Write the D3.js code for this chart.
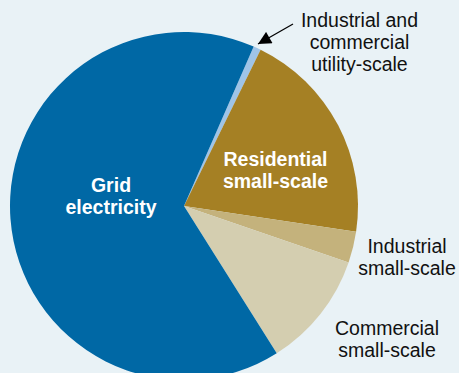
<!DOCTYPE html>
<html>
<head>
<meta charset="utf-8">
<script src="https://cdn.jsdelivr.net/npm/d3@7"></script>
<style>
  html, body { margin: 0; padding: 0; background: #e9f2f6; }
  svg { display: block; }
  text { font-family: "Liberation Sans", Arial, sans-serif; }
</style>
</head>
<body>
<div id="chart"></div>
<script>
// Electricity supply shares (percent), clockwise from the utility-scale sliver
const categories = [
  "Industrial and commercial utility-scale",
  "Residential small-scale",
  "Industrial small-scale",
  "Commercial small-scale",
  "Grid electricity"
];
const shares = [0.7, 20.1, 2.9, 10.8, 65.5];
const colors = ["#9fc4e7", "#a58024", "#c4b27c", "#d4ceb0", "#0068a5"];

const width = 459, height = 373;
const cx = 184, cy = 206, radius = 174;
const startDeg = 23.6;

const svg = d3.select("#chart").append("svg")
  .attr("width", width).attr("height", height);

svg.append("rect").attr("width", width).attr("height", height).attr("fill", "#e9f2f6");

const defs = svg.append("defs");
defs.append("marker")
  .attr("id", "arrowhead")
  .attr("viewBox", "0 0 10 10")
  .attr("refX", 10).attr("refY", 5)
  .attr("markerWidth", 14).attr("markerHeight", 13)
  .attr("markerUnits", "userSpaceOnUse")
  .attr("orient", "auto")
  .append("path").attr("d", "M0,0 L10,5 L0,10 Z").attr("fill", "#000");

const pie = d3.pie()
  .sort(null)
  .value(d => d)
  .startAngle(startDeg * Math.PI / 180)
  .endAngle(startDeg * Math.PI / 180 + 2 * Math.PI);

const arc = d3.arc().innerRadius(0).outerRadius(radius);

const g = svg.append("g").attr("transform", `translate(${cx},${cy})`);
g.selectAll("path.slice")
  .data(pie(shares))
  .join("path")
  .attr("class", "slice")
  .attr("d", arc)
  .attr("fill", (d, i) => colors[i]);

// Slice labels: text lines, centre x, first baseline y, inside the pie or not
const labels = [
  { lines: ["Grid", "electricity"], x: 111, y: 192, inside: true },
  { lines: ["Residential", "small-scale"], x: 275.5, y: 166, inside: true },
  { lines: ["Industrial and", "commercial", "utility-scale"], x: 359.5, y: 27, inside: false },
  { lines: ["Industrial", "small-scale"], x: 407, y: 253, inside: false },
  { lines: ["Commercial", "small-scale"], x: 387, y: 335, inside: false }
];
const lineH = 22;

labels.forEach(l => {
  const t = svg.append("text")
    .attr("text-anchor", "middle")
    .attr("font-size", 19.5)
    .attr("font-weight", l.inside ? "bold" : "normal")
    .attr("fill", l.inside ? "#ffffff" : "#111111");
  l.lines.forEach((s, i) => {
    t.append("tspan").attr("x", l.x).attr("y", l.y + i * lineH).text(s);
  });
});

// Pointer to the utility-scale sliver
svg.append("line")
  .attr("x1", 293).attr("y1", 24)
  .attr("x2", 258).attr("y2", 44)
  .attr("stroke", "#000").attr("stroke-width", 1.3)
  .attr("marker-end", "url(#arrowhead)");
</script>
</body>
</html>
